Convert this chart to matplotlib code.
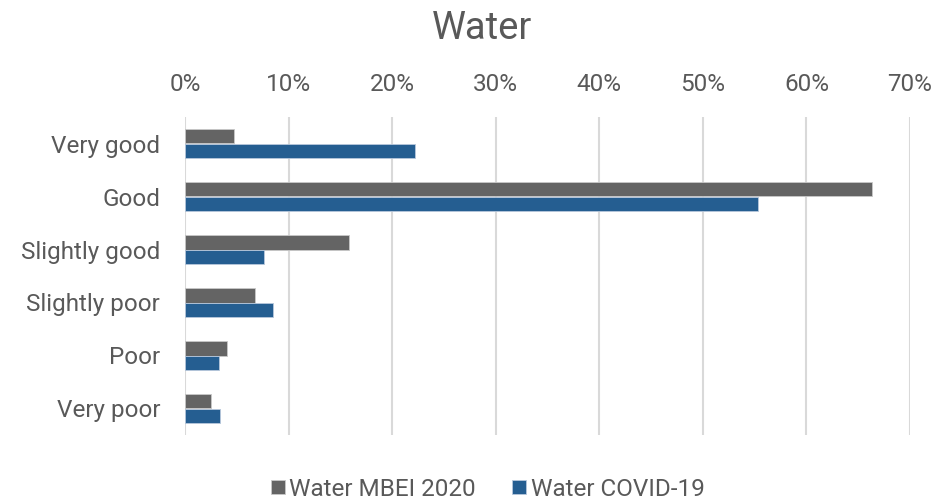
import matplotlib
matplotlib.use('Agg')
import matplotlib.pyplot as plt
import numpy as np

plt.rcParams['font.family'] = ['Roboto', 'DejaVu Sans']

categories = ['Very good', 'Good', 'Slightly good', 'Slightly poor', 'Poor', 'Very poor']
mbei_2020 = [4.75, 66.3, 15.8, 6.7, 4.0, 2.45]
covid_19 = [22.2, 55.3, 7.6, 8.5, 3.3, 3.4]
x_ticks = [0, 10, 20, 30, 40, 50, 60, 70]

text_col = '#595959'
gray = '#646464'
blue = '#255E91'

fig = plt.figure(figsize=(9.4, 5), dpi=100)
ax = fig.add_axes([0.197, 0.13, 0.771, 0.636])

y = np.arange(len(categories))
h = 0.265
ax.barh(y - h / 2, mbei_2020, height=h, color=gray, edgecolor='#c8c8c8', linewidth=0.6,
        label='Water MBEI 2020', zorder=3)
ax.barh(y + h / 2, covid_19, height=h, color=blue, edgecolor='#b8c8dc', linewidth=0.6,
        label='Water COVID-19', zorder=3)

ax.set_xlim(0, 70)
ax.set_ylim(len(categories) - 0.5, -0.5)
ax.set_xticks(x_ticks)
ax.set_xticklabels([f'{t}%' for t in x_ticks])
ax.xaxis.tick_top()
ax.set_yticks(y)
ax.set_yticklabels(categories)
ax.tick_params(axis='both', length=0, labelsize=17.5, labelcolor=text_col)
ax.tick_params(axis='x', pad=15)
ax.tick_params(axis='y', pad=18)
ax.grid(axis='x', color='#d9d9d9', linewidth=1.5, zorder=0)
for s in ax.spines.values():
    s.set_visible(False)

fig.suptitle('Water', fontsize=27.5, color=text_col, x=0.513, y=0.98)

fig.legend(loc='lower center', ncol=2, frameon=False, fontsize=17.5, labelcolor=text_col,
           handlelength=0.55, handleheight=0.55, handletextpad=0.2, columnspacing=1.5,
           bbox_to_anchor=(0.519, -0.045))

fig.savefig('out.png', dpi=100)
